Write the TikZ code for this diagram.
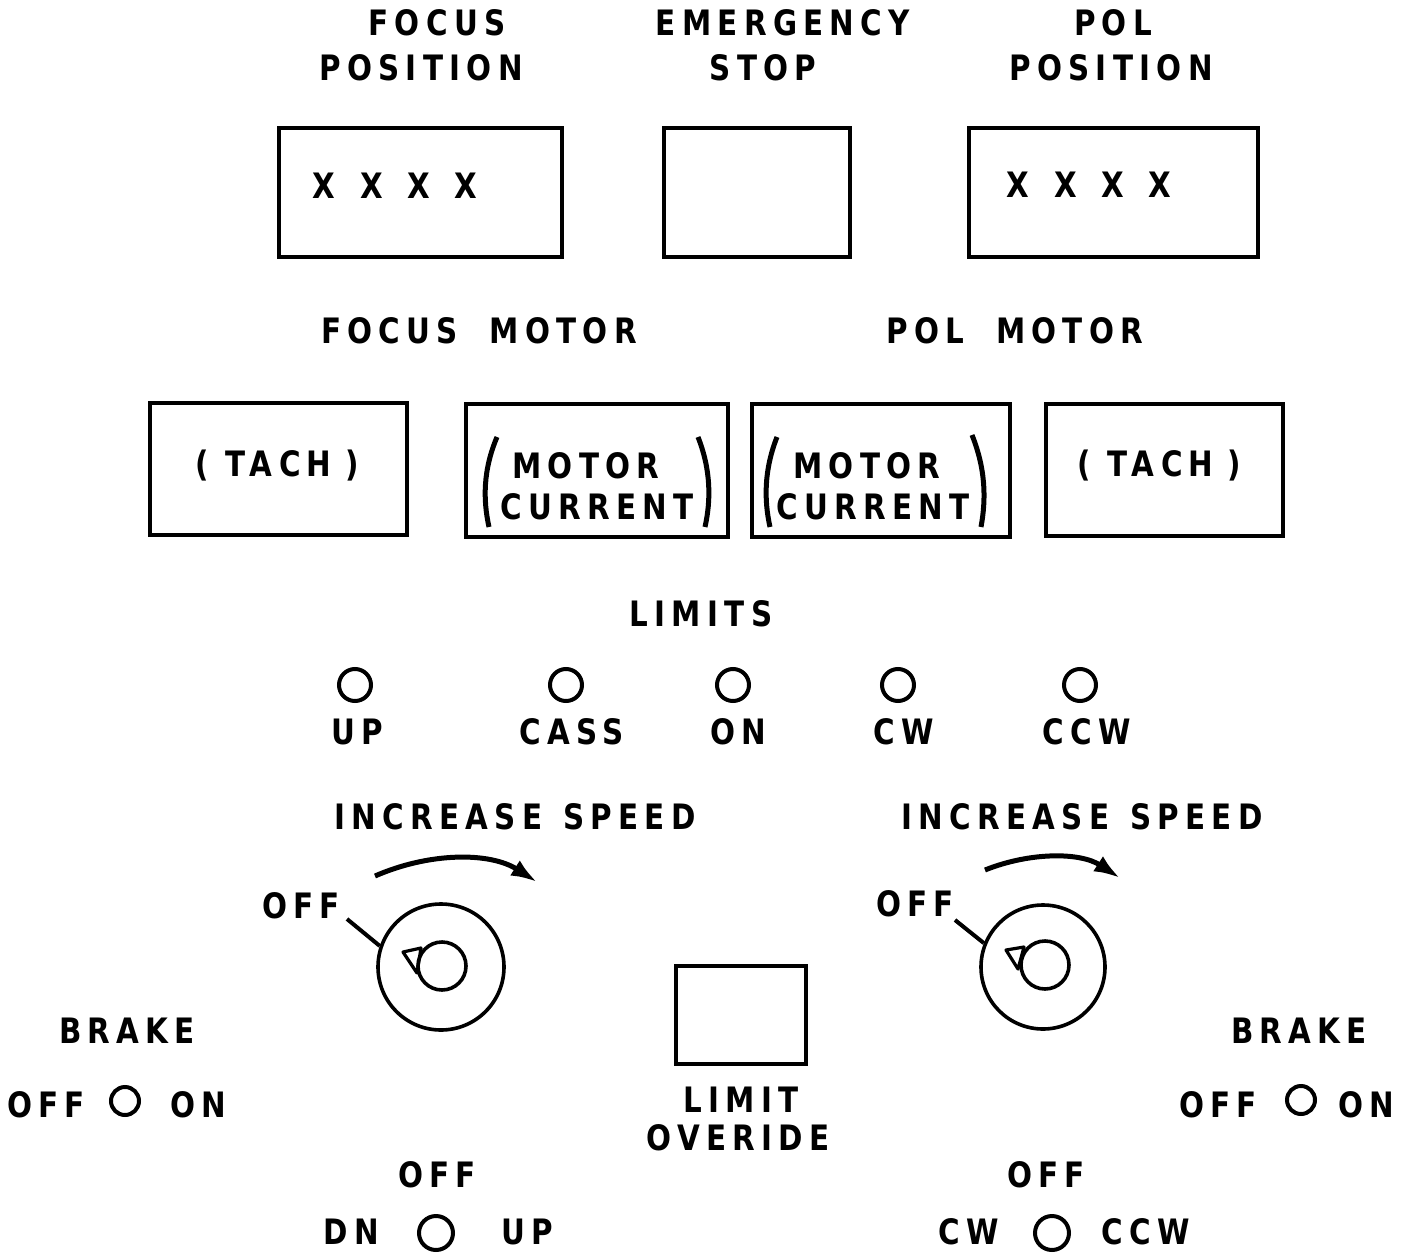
\documentclass[tikz,border=0pt]{standalone}
\usepackage{fontspec}
\newfontfamily\panelfont{DejaVu Sans}[FakeStretch=0.84, LetterSpace=18]
\usetikzlibrary{arrows.meta}
\begin{document}
\begin{tikzpicture}[x=0.5pt,y=-0.5pt,
  lbl/.style={font=\panelfont\bfseries\fontsize{17.5}{19}\selectfont, inner sep=0pt, anchor=center},
  panel/.style={draw, line width=2pt},
  lamp/.style={circle, draw, line width=2pt, minimum size=16pt, inner sep=0pt},
  thin/.style={line width=2pt},
  >={Latex[length=13pt,width=9pt]}]
\useasboundingbox (0,0) rectangle (1410,1253);
% Top labels
\node[lbl] (fp1) at (437,23) {FOCUS};
\node[lbl] (fp2) at (421,68) {POSITION};
\node[lbl] (es1) at (783,23) {EMERGENCY};
\node[lbl] (es2) at (763,68) {STOP};
\node[lbl] (pp1) at (1113,23) {POL};
\node[lbl] (pp2) at (1111,68) {POSITION};
% Top boxes
\draw[panel] (279,128) rectangle (562,257);
\node[lbl] (fpx) at (395,186) {X\hspace{0.7em}X\hspace{0.7em}X\hspace{0.7em}X};
\draw[panel] (664,128) rectangle (850,257);
\node (esbox) at (757,192) {};
\draw[panel] (969,128) rectangle (1258,257);
\node[lbl] (ppx) at (1089,185) {X\hspace{0.7em}X\hspace{0.7em}X\hspace{0.7em}X};
% Motor labels
\node[lbl] (fm) at (479,331) {FOCUS\hspace{0.9em}MOTOR};
\node[lbl] (pm) at (1015,331) {POL\hspace{0.9em}MOTOR};
% Meter boxes
\draw[panel] (150,403) rectangle (407,535);
\node[lbl] (t1) at (277,466) {(\hspace{0.5em}TACH\hspace{0.4em})};
\draw[panel] (466,404) rectangle (728,537);
\node[lbl] (mc1a) at (586,466) {MOTOR};
\node[lbl] (mc1b) at (597,507) {CURRENT};
\draw[line width=2.5pt] (497,437) .. controls (483,470) and (483,500) .. (489,527);
\draw[line width=2.5pt] (698,437) .. controls (711,470) and (711,500) .. (705,527);
\draw[panel] (752,404) rectangle (1010,537);
\node[lbl] (mc2a) at (867,466) {MOTOR};
\node[lbl] (mc2b) at (873,507) {CURRENT};
\draw[line width=2.5pt] (777,437) .. controls (764,470) and (764,500) .. (770,527);
\draw[line width=2.5pt] (972,435) .. controls (986,470) and (986,500) .. (981,527);
\draw[panel] (1046,404) rectangle (1283,536);
\node[lbl] (t2) at (1159,466) {(\hspace{0.5em}TACH\hspace{0.4em})};
% Limits
\node[lbl] (lim) at (701,614) {LIMITS};
\node[lamp] (l1) at (355,685) {};
\node[lamp] (l2) at (566,685) {};
\node[lamp] (l3) at (733,685) {};
\node[lamp] (l4) at (898,685) {};
\node[lamp] (l5) at (1080,685) {};
\node[lbl] (l1t) at (357,732) {UP};
\node[lbl] (l2t) at (572,732) {CASS};
\node[lbl] (l3t) at (738,732) {ON};
\node[lbl] (l4t) at (904,732) {CW};
\node[lbl] (l5t) at (1087,732) {CCW};
% Increase speed
\node[lbl] (is1) at (515,817) {INCREASE\hspace{0.6em}SPEED};
\node[lbl] (is2) at (1082,817) {INCREASE\hspace{0.6em}SPEED};
\coordinate (a1s) at (375,876);
\coordinate (a1e) at (537,882);
\draw[line width=2.5pt,->] (a1s) .. controls (430,852) and (490,852) .. (a1e);
\coordinate (a2s) at (985,870);
\coordinate (a2e) at (1120,878);
\draw[line width=2.5pt,->] (a2s) .. controls (1030,852) and (1080,852) .. (a2e);
% Left knob
\node[lbl] (off1) at (301,906) {OFF};
\node[circle, draw, line width=1.8pt, minimum size=63pt, inner sep=0pt] (k1) at (441,967) {};
\node[circle, draw, line width=1.8pt, minimum size=24pt, inner sep=0pt] (k1i) at (442,966) {};
\coordinate (k1o) at (347,919);
\draw[thin] (k1o) -- (k1.161);
\draw[line width=1.6pt, line join=round] (403,952) -- (421,948) -- (417,973) -- cycle;
% Right knob
\node[lbl] (off2) at (915,904) {OFF};
\node[circle, draw, line width=1.8pt, minimum size=62pt, inner sep=0pt] (k2) at (1043,967) {};
\node[circle, draw, line width=1.8pt, minimum size=24pt, inner sep=0pt] (k2i) at (1045,965) {};
\coordinate (k2o) at (955,920);
\draw[thin] (k2o) -- (k2.158);
\draw[line width=1.6pt, line join=round] (1006,950) -- (1024,947) -- (1018,969) -- cycle;
% Limit override
\draw[panel] (676,966) rectangle (806,1064);
\node[lbl] (lo1) at (741,1100) {LIMIT};
\node[lbl] (lo2) at (738,1138) {OVERIDE};
% Brakes
\node[lbl] (b1) at (127,1031) {BRAKE};
\node[lbl] (b1off) at (46,1105) {OFF};
\node[lamp, minimum size=14pt] (b1l) at (125,1101) {};
\node[lbl] (b1on) at (198,1105) {ON};
\node[lbl] (b2) at (1299,1031) {BRAKE};
\node[lbl] (b2off) at (1218,1105) {OFF};
\node[lamp, minimum size=14pt] (b2l) at (1301,1100) {};
\node[lbl] (b2on) at (1366,1105) {ON};
% Bottom switches
\node[lbl] (s1off) at (437,1175) {OFF};
\node[lbl] (s1dn) at (351,1232) {DN};
\node[lamp, minimum size=17pt] (s1) at (436,1233) {};
\node[lbl] (s1up) at (527,1232) {UP};
\node[lbl] (s2off) at (1046,1175) {OFF};
\node[lbl] (s2cw) at (969,1232) {CW};
\node[lamp, minimum size=17pt] (s2) at (1052,1233) {};
\node[lbl] (s2ccw) at (1146,1232) {CCW};
\end{tikzpicture}
\end{document}
